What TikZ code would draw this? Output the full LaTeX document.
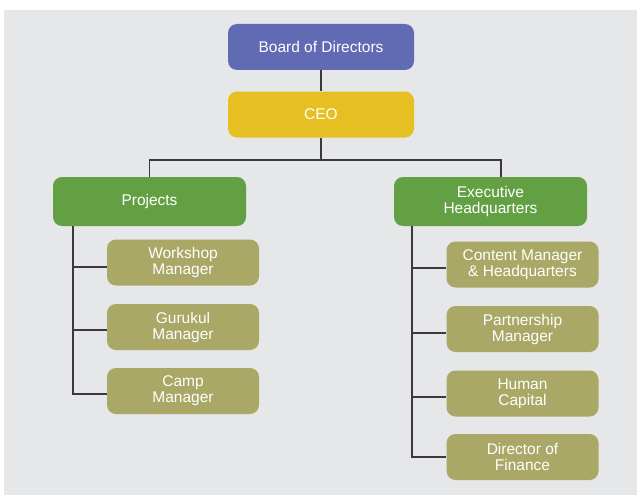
\documentclass[tikz,border=0pt]{standalone}
\usepackage{fontspec}
\setmainfont{Liberation Sans}
\usetikzlibrary{positioning}

\definecolor{bgGray}{HTML}{E6E7E9}
\definecolor{boardBlue}{HTML}{616BB3}
\definecolor{ceoYellow}{HTML}{E6BF22}
\definecolor{deptGreen}{HTML}{62A043}
\definecolor{roleOlive}{HTML}{A9A866}
\definecolor{lineGray}{HTML}{3A3A3C}

\tikzset{
  box/.style={rounded corners=9pt, text=white, align=center, inner sep=0pt,
              font=\fontsize{15.5}{16}\selectfont},
  topbox/.style={box, minimum width=186pt, minimum height=46pt},
  deptbox/.style={box, fill=deptGreen, minimum width=193pt, minimum height=49pt},
  rolebox/.style={box, fill=roleOlive, minimum width=152pt, minimum height=46pt},
  link/.style={draw=lineGray, line width=1.4pt}
}

\begin{document}
\begin{tikzpicture}[x=1pt, y=-1pt]
	\fill[white] (0,0) rectangle (637,495);
	\useasboundingbox (0,0) rectangle (637,495);
	\fill[bgGray] (4,10) rectangle (637,495);

	\node[topbox, fill=boardBlue] (board) at (321,47) {Board of Directors};
	\node[topbox, fill=ceoYellow] (ceo) at (321,114.5) {CEO};
	\node[deptbox] (proj) at (149.5,201.5) {Projects};
	\node[deptbox] (exec) at (490.5,201.5) {Executive\\Headquarters};

	\node[rolebox] (workshop) at (183,262.5) {Workshop\\Manager};
	\node[rolebox] (gurukul) at (183,327) {Gurukul\\Manager};
	\node[rolebox] (camp) at (183,391) {Camp\\Manager};

	\node[rolebox] (content) at (522.5,264.5) {Content Manager\\\& Headquarters};
	\node[rolebox] (partner) at (522.5,329) {Partnership\\Manager};
	\node[rolebox] (human) at (522.5,393.5) {Human\\Capital};
	\node[rolebox] (finance) at (522.5,457) {Director of\\Finance};

	\coordinate (bus) at (321,160);
	\coordinate (ltrunk) at (73,226);
	\coordinate (rtrunk) at (412,226);

	\draw[link] (board) -- (ceo);
	\draw[link] (ceo) -- (bus);
	\draw[link] (proj) |- (bus) -| ([xshift=10.5pt]exec.north);

	\draw[link] (ltrunk) |- ([yshift=-3pt]camp.west);
	\draw[link] (ltrunk |- workshop.west) ++(0,4.5) -- ([yshift=-4.5pt]workshop.west);
	\draw[link] (ltrunk |- gurukul.west) ++(0,3) -- ([yshift=-3pt]gurukul.west);

	\draw[link] (rtrunk) |- (finance.west);
	\draw[link] (rtrunk |- content.west) ++(0,3.5) -- ([yshift=-3.5pt]content.west);
	\draw[link] (rtrunk |- partner.west) ++(0,4) -- ([yshift=-4pt]partner.west);
	\draw[link] (rtrunk |- human.west) ++(0,3.5) -- ([yshift=-3.5pt]human.west);
\end{tikzpicture}
\end{document}
